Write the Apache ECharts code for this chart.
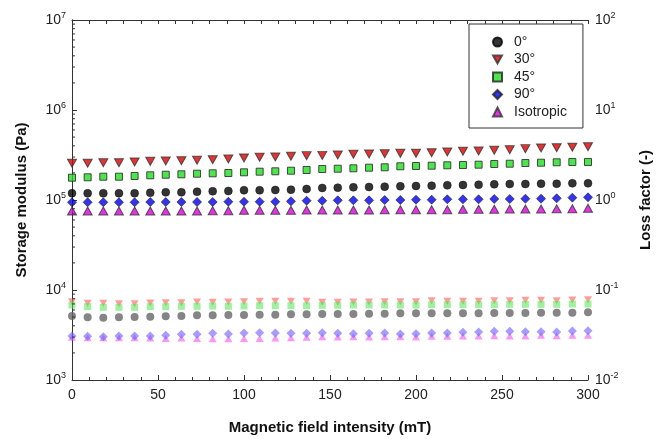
<!DOCTYPE html>
<html>
<head>
<meta charset="utf-8">
<script src="https://cdn.jsdelivr.net/npm/echarts@6.0.0/dist/echarts.min.js"></script>
<style>
  html, body { margin: 0; padding: 0; background: #fff; }
  #chart { width: 656px; height: 439px; }
</style>
</head>
<body>
<div id="chart"></div>
<script>
// magnetic field (mT)
var fieldMT = [0, 9.1, 18.2, 27.3, 36.4, 45.5, 54.5, 63.6, 72.7, 81.8, 90.9, 100, 109.1, 118.2, 127.3, 136.4, 145.5,
  154.5, 163.6, 172.7, 181.8, 190.9, 200, 209.1, 218.2, 227.3, 236.4, 245.5, 254.5, 263.6, 272.7, 281.8, 290.9, 300];

// storage modulus (Pa)
var storage0 = [118700, 118700, 118700, 118700, 118700, 120500, 121800, 121800, 123700, 125000, 125900, 128200, 128200, 129200, 130200, 132600,
  136000, 137000, 138500, 139500, 140600, 142000, 143100, 144200, 145700, 146800, 147900, 149400, 150600, 150600, 151700, 151700, 153300, 153300];
var storage30 = [256000, 256000, 259000, 259000, 264000, 269000, 271000, 273000, 276000, 280000, 286000, 293000, 298000, 301000, 306000, 311000,
  313000, 316000, 322000, 324000, 327000, 330000, 330000, 335000, 342000, 348000, 350000, 357000, 362000, 372000, 378000, 381000, 385000, 391000];
var storage45 = [177000, 178700, 181500, 181500, 184800, 188100, 191000, 193000, 196000, 198000, 199500, 203100, 206300, 208400, 211600, 215400,
  221000, 222700, 225000, 228500, 230900, 236800, 238700, 240500, 243000, 244900, 246800, 251200, 253100, 257700, 259700, 262400, 264400, 264400];
var storage90 = [94300, 94300, 94300, 94300, 94300, 95000, 95000, 95000, 95000, 95000, 95700, 95700, 95700, 95700, 96700, 98200,
  98200, 99200, 99200, 99200, 100000, 100000, 100800, 100800, 101800, 101800, 101800, 102600, 102600, 103400, 103400, 104400, 106100, 107200];
var storageIso = [75500, 75500, 75500, 75500, 75500, 75500, 75500, 75500, 75500, 76100, 76100, 76900, 76900, 76900, 76900, 77400,
  77400, 77400, 77400, 77400, 78000, 78000, 78000, 78000, 78000, 78800, 78800, 78800, 79400, 79400, 79400, 80000, 80000, 80900];

// loss factor (-)
var loss0 = [0.0514, 0.0497, 0.0493, 0.0497, 0.0501, 0.0506, 0.0510, 0.0514, 0.0523, 0.0523, 0.0527, 0.0527, 0.0532, 0.0532, 0.0537, 0.0537,
  0.0541, 0.0541, 0.0541, 0.0546, 0.0546, 0.0550, 0.0550, 0.0550, 0.0550, 0.0550, 0.0550, 0.0555, 0.0555, 0.0555, 0.0560, 0.0560, 0.0560, 0.0565];
var loss30 = [0.0741, 0.0711, 0.0711, 0.0704, 0.0704, 0.0717, 0.0723, 0.0723, 0.0736, 0.0730, 0.0736, 0.0741, 0.0749, 0.0749, 0.0749, 0.0749,
  0.0730, 0.0730, 0.0736, 0.0736, 0.0741, 0.0741, 0.0741, 0.0760, 0.0749, 0.0749, 0.0749, 0.0760, 0.0760, 0.0768, 0.0768, 0.0760, 0.0774, 0.0780];
var loss45 = [0.0681, 0.0653, 0.0642, 0.0642, 0.0642, 0.0653, 0.0653, 0.0659, 0.0659, 0.0664, 0.0659, 0.0664, 0.0670, 0.0670, 0.0670, 0.0670,
  0.0676, 0.0676, 0.0681, 0.0681, 0.0681, 0.0681, 0.0681, 0.0687, 0.0687, 0.0687, 0.0687, 0.0687, 0.0693, 0.0693, 0.0693, 0.0693, 0.0699, 0.0699];
var loss90 = [0.0308, 0.0306, 0.0303, 0.0308, 0.0308, 0.0308, 0.0314, 0.0322, 0.0322, 0.0330, 0.0324, 0.0333, 0.0336, 0.0333, 0.0330, 0.0330,
  0.0336, 0.0330, 0.0327, 0.0330, 0.0333, 0.0324, 0.0327, 0.0333, 0.0333, 0.0339, 0.0341, 0.0347, 0.0347, 0.0344, 0.0344, 0.0341, 0.0350, 0.0353];
var lossIso = [0.0298, 0.0295, 0.0295, 0.0295, 0.0295, 0.0293, 0.0290, 0.0293, 0.0290, 0.0288, 0.0288, 0.0290, 0.0290, 0.0293, 0.0295, 0.0298,
  0.0303, 0.0301, 0.0303, 0.0301, 0.0303, 0.0303, 0.0301, 0.0306, 0.0306, 0.0308, 0.0308, 0.0311, 0.0308, 0.0308, 0.0314, 0.0311, 0.0314, 0.0314];

var legendNames = ['0°', '30°', '45°', '90°', 'Isotropic'];

// log minor ticks of the left axis (2..9 x 10^n)
var minorMults = [2, 3, 4, 5, 6, 7, 8, 9];
var minorDecades = [1e3, 1e4, 1e5, 1e6];

var FONT = 'Liberation Sans, Arial, sans-serif';
var AXIS_COLOR = '#333';
var TRI_DOWN = 'path://M0,0 L10,0 L5,9 Z';

function pairs(ys) {
  return fieldMT.map(function (x, i) { return [x, ys[i]]; });
}

var minorTickData = [];
minorDecades.forEach(function (d) {
  minorMults.forEach(function (m) { minorTickData.push([0, m * d]); });
});

function powLabel(v) {
  var e = Math.round(Math.log10(v));
  return '{b|10}{s|' + e + '}';
}
var powRich = {
  b: { fontSize: 14, color: '#222', fontFamily: FONT },
  s: { fontSize: 9, color: '#222', fontFamily: FONT, padding: [0, 0, 8, 0] }
};

var chart = echarts.init(document.getElementById('chart'), null, { renderer: 'canvas' });

chart.setOption({
  animation: false,
  textStyle: { fontFamily: FONT },
  grid: { left: 72, right: 68, top: 20, bottom: 59, containLabel: false, outerBoundsMode: 'none' },
  legend: {
    data: legendNames,
    orient: 'vertical',
    left: 469,
    top: 24,
    padding: [11, 16, 9, 23],
    itemWidth: 9,
    itemHeight: 9,
    itemGap: 3.5,
    borderColor: '#333',
    borderWidth: 1,
    backgroundColor: '#fff',
    selectedMode: false,
    z: 10,
    textStyle: { fontSize: 14, color: '#222', fontFamily: FONT, lineHeight: 14, padding: [0, 0, 0, 7] }
  },
  xAxis: [{
    type: 'value',
    min: 0,
    max: 300,
    interval: 50,
    name: 'Magnetic field intensity (mT)',
    nameLocation: 'middle',
    nameGap: 40,
    nameTextStyle: { fontSize: 15, fontWeight: 'bold', color: '#111', fontFamily: FONT },
    axisLine: { lineStyle: { color: AXIS_COLOR } },
    axisTick: { inside: true, length: 5, lineStyle: { color: AXIS_COLOR } },
    minorTick: { show: true, splitNumber: 5, length: 3, lineStyle: { color: AXIS_COLOR } },
    axisLabel: { fontSize: 14, color: '#222', margin: 8, fontFamily: FONT },
    splitLine: { show: false }
  }, {
    type: 'value',
    position: 'top',
    min: 0,
    max: 300,
    interval: 10,
    axisLine: { show: true, lineStyle: { color: AXIS_COLOR } },
    axisTick: { inside: true, length: 4, lineStyle: { color: AXIS_COLOR } },
    axisLabel: { show: false },
    splitLine: { show: false }
  }],
  yAxis: [{
    type: 'log',
    logBase: 10,
    min: 1e3,
    max: 1e7,
    name: 'Storage modulus (Pa)',
    nameLocation: 'middle',
    nameRotate: 90,
    nameGap: 43,
    nameTextStyle: { fontSize: 15, fontWeight: 'bold', color: '#111', fontFamily: FONT },
    axisLine: { show: true, lineStyle: { color: AXIS_COLOR } },
    axisTick: { show: true, inside: true, length: 5, lineStyle: { color: AXIS_COLOR } },
    axisLabel: { formatter: powLabel, rich: powRich, margin: 6 },
    splitLine: { show: false }
  }, {
    type: 'log',
    logBase: 10,
    min: 1e-2,
    max: 1e2,
    position: 'right',
    name: 'Loss factor (-)',
    nameLocation: 'middle',
    nameRotate: 90,
    nameGap: 50,
    nameTextStyle: { fontSize: 15, fontWeight: 'bold', color: '#111', fontFamily: FONT },
    axisLine: { show: true, lineStyle: { color: AXIS_COLOR } },
    axisTick: { show: true, inside: false, length: 5, lineStyle: { color: AXIS_COLOR } },
    axisLabel: { formatter: powLabel, rich: powRich, margin: 7 },
    splitLine: { show: false }
  }],
  series: [
    {
      type: 'custom',
      silent: true,
      xAxisIndex: 0,
      yAxisIndex: 0,
      clip: false,
      z: 3,
      data: minorTickData,
      renderItem: function (params, api) {
        var p = api.coord([api.value(0), api.value(1)]);
        return {
          type: 'line',
          shape: { x1: p[0], y1: p[1], x2: p[0] + 3, y2: p[1] },
          style: { stroke: AXIS_COLOR, lineWidth: 1 }
        };
      }
    },
    // loss factor (faded, right axis)
    { name: 'loss30', type: 'scatter', yAxisIndex: 1, symbol: TRI_DOWN, symbolSize: [8, 7],
      itemStyle: { color: '#ff5b5b', opacity: 0.6 }, data: pairs(loss30) },
    { name: 'loss45', type: 'scatter', yAxisIndex: 1, symbol: 'rect', symbolSize: 7,
      itemStyle: { color: '#4ee64e', opacity: 0.55 }, data: pairs(loss45) },
    { name: 'loss0', type: 'scatter', yAxisIndex: 1, symbol: 'circle', symbolSize: 8,
      itemStyle: { color: '#666', opacity: 0.8 }, data: pairs(loss0) },
    { name: 'lossIso', type: 'scatter', yAxisIndex: 1, symbol: 'triangle', symbolSize: [8, 7],
      itemStyle: { color: '#ee44ee', opacity: 0.55 }, data: pairs(lossIso) },
    { name: 'loss90', type: 'scatter', yAxisIndex: 1, symbol: 'diamond', symbolSize: 9,
      itemStyle: { color: '#6a5cff', opacity: 0.6 }, data: pairs(loss90) },
    // storage modulus (left axis)
    { name: '0°', type: 'scatter', yAxisIndex: 0, symbol: 'circle', symbolSize: 8,
      itemStyle: { color: '#000', borderColor: '#000', borderWidth: 0.5 }, data: pairs(storage0) },
    { name: '30°', type: 'scatter', yAxisIndex: 0, symbol: TRI_DOWN, symbolSize: [9, 8],
      itemStyle: { color: '#dd0000', borderColor: '#333', borderWidth: 1 }, data: pairs(storage30) },
    { name: '45°', type: 'scatter', yAxisIndex: 0, symbol: 'rect', symbolSize: 7,
      itemStyle: { color: '#22dd22', borderColor: '#222', borderWidth: 1 }, data: pairs(storage45) },
    { name: '90°', type: 'scatter', yAxisIndex: 0, symbol: 'diamond', symbolSize: 9,
      itemStyle: { color: '#0000ee', borderColor: '#222', borderWidth: 0.8 }, data: pairs(storage90) },
    { name: 'Isotropic', type: 'scatter', yAxisIndex: 0, symbol: 'triangle', symbolSize: [9, 8],
      itemStyle: { color: '#dd00dd', borderColor: '#333', borderWidth: 1 }, data: pairs(storageIso) }
  ]
});
</script>
</body>
</html>
